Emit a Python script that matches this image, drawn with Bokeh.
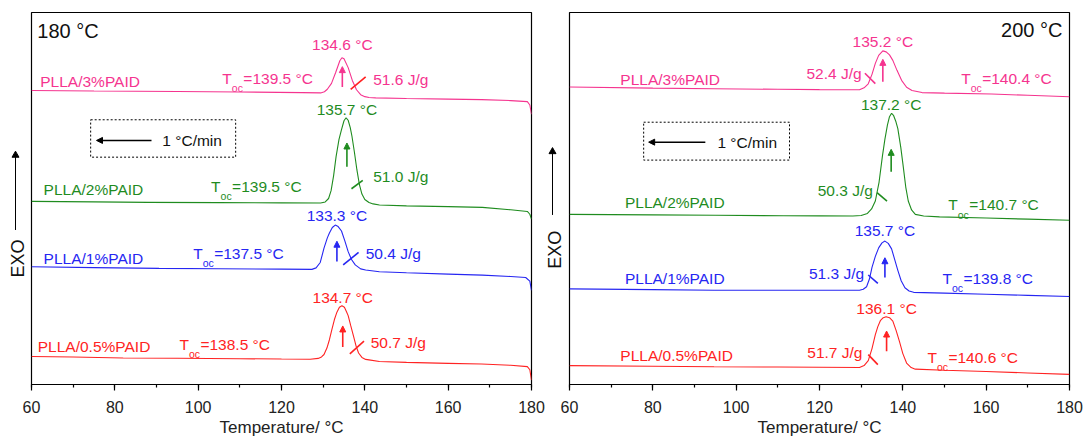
from math import pi
from bokeh.plotting import figure
from bokeh.layouts import row
from bokeh.models import Range1d, SingleIntervalTicker, Arrow, NormalHead
from bokeh.core.properties import value
from bokeh.embed import file_html
from bokeh.resources import INLINE

FONT = "Liberation Sans"

samples = ["PLLA/0.5%PAID", "PLLA/1%PAID", "PLLA/2%PAID", "PLLA/3%PAID"]
colors = ["#FF2323", "#2626F2", "#1F8C1F", "#F5348F"]

# ---------------- isothermal-melt 180 °C, cooling 1 °C/min (heat flow, a.u.) -------------
t180_05 = [60, 70, 82, 95, 110, 120, 126.9, 128.8, 129.6, 130.2, 130.9, 131.5, 132.1, 132.7, 133.3,
           133.9, 134.5, 135.1, 135.6, 136.0, 136.6, 137.3, 137.9, 138.5, 139.3, 140.2, 141.0, 143.5,
           150, 160, 168, 175, 179, 179.6, 180]
hf180_05 = [28.5, 28, 27, 26.6, 26.2, 25.9, 25.7, 26.5, 28, 30.5, 37, 45.5, 56, 66, 73.5,
            78.5, 80, 78.5, 74, 70, 60, 49, 39, 32, 27.5, 25.5, 25, 23.3,
            22.5, 21.5, 20.9, 19.5, 18.2, 15, 4.4]

t180_1 = [60, 75, 90.6, 105, 120, 127.3, 128.3, 129.3, 130.2, 131, 131.5, 132.2, 132.9, 133.6, 134.4,
          135.2, 136, 136.8, 137.7, 139, 140.2, 143.5, 150, 160, 168.2, 175, 178.6, 179.6, 180]
hf180_1 = [119.7, 118.8, 118, 117.6, 117.2, 117, 118.5, 124, 138.5, 149, 154, 159.5, 162, 160.5, 156,
           146, 135, 127, 121.5, 117.5, 116.3, 114.6, 113.5, 112.2, 111.1, 109.7, 108.7, 105, 95.6]

t180_2 = [60, 75, 88, 105, 120, 129.4, 130.5, 131.3, 131.9, 132.5, 133.1, 133.8, 134.4, 135, 135.5,
          136, 136.5, 136.9, 137.5, 138.1, 138.7, 139.3, 140, 141, 142, 143.5, 150, 160, 168.2, 175,
          179, 179.6, 180]
hf180_2 = [186.1, 185.6, 185.1, 184.8, 184.6, 184.4, 185.5, 189, 197, 212, 231.5, 249, 259, 268, 271,
           268.5, 261, 252.5, 236, 218, 203, 193.5, 188, 185, 183.5, 182.4, 181.5, 180.7, 180, 177.5,
           175.8, 173, 168]

t180_3 = [60, 75, 95, 110, 125, 129.4, 130.3, 131, 132, 133, 134, 134.5, 135, 136, 137, 138, 139, 140,
          141, 142.6, 150, 160, 168, 175, 179, 179.6, 180]
hf180_3 = [298.7, 298.2, 297.7, 297.2, 296.6, 296.3, 297.5, 300, 306, 317, 329, 332, 331, 322, 309,
           299.5, 294.5, 292.5, 291.6, 291.2, 290.6, 290, 289.5, 288.5, 287.4, 284, 274.6]

# ---------------- isothermal-melt 200 °C -------------
t200_05 = [60, 80, 94.7, 110, 120, 129.6, 130.7, 131.7, 132.6, 133.4, 134, 134.6, 135.3, 136, 136.8,
           137.6, 138.4, 139.2, 140, 140.9, 142, 143, 150, 160, 170, 180]
hf200_05 = [18.9, 18.3, 17.8, 17.5, 17.3, 17.1, 19, 24, 36, 50, 58, 64, 67, 68, 67,
            63.5, 54, 43, 31, 21.5, 17, 15.4, 14.3, 13, 11.6, 10.2]

t200_1 = [60, 80, 94.7, 110, 120, 129.6, 130.5, 131.3, 132, 132.6, 133.4, 134.2, 135, 135.7, 136.5,
          137.3, 138, 138.8, 139.6, 140.5, 141.5, 142.6, 150, 160, 170, 180]
hf200_1 = [95.9, 95.1, 94.5, 94.5, 94.5, 94.5, 95.5, 98, 106, 117.5, 128.5, 137, 142, 143.8, 141.5,
           136, 126, 114.5, 104, 97, 93.8, 92.4, 91.6, 90.5, 89.4, 88.3]

t200_2 = [60, 80, 95, 111.3, 120, 128, 130, 131.5, 132.5, 133.4, 134.3, 135.1, 135.7, 136.3, 136.8,
          137.3, 137.8, 138.3, 138.8, 139.5, 140.1, 140.7, 141.3, 142.1, 143, 145, 148.8, 160, 170, 180]
hf200_2 = [170.6, 170.1, 169.7, 169.2, 169.1, 169, 169.5, 171.5, 176, 184, 203, 229, 246, 260, 268.5,
           272, 269.5, 264, 256.5, 238, 218.5, 198, 184, 175, 170.6, 169, 168.1, 166.9, 165.8, 164.7]

t200_3 = [60, 80, 94.7, 110, 120, 129.6, 130.7, 131.7, 132.6, 133.4, 134.2, 135.2, 136, 136.8, 137.6,
          138.6, 139.7, 140.9, 142.2, 144.6, 150, 161.3, 170, 180]
hf200_3 = [298.3, 297.2, 296.5, 296, 295.7, 295.5, 297.5, 301.5, 311, 322, 330, 334.5, 333.5, 330.5, 325,
           315, 305, 298, 294.8, 292.7, 292.2, 291.3, 290, 288.5]

# peak temperature (°C), crystallization enthalpy (J/g), onset temperature (°C)
tp_180 = [134.7, 133.3, 135.7, 134.6]
dh_180 = [50.7, 50.4, 51.0, 51.6]
toc_180 = [138.5, 137.5, 139.5, 139.5]
tp_200 = [136.1, 135.7, 137.2, 135.2]
dh_200 = [51.7, 51.3, 50.3, 52.4]
toc_200 = [140.6, 139.8, 140.7, 140.4]

# ---------------- annotation layout (positions only) ----------------
lay_180 = dict(
    title="180 °C", title_x=61.4, title_y=359, title_align="left",
    name_x=[61.5, 62.9, 62.9, 62.1], name_y=[38.8, 128.3, 198, 308],
    toc_x=[95.5, 98.8, 103.1, 105.8], toc_y=[40.5, 133.5, 201.3, 310.8],
    dh_x=[141.4, 140.2, 142, 142], dh_y=[42.3, 132.8, 211, 310.1], dh_align="left",
    sl=[(136.4, 31.2, 139.8, 44), (134.8, 121.5, 138.5, 134.2), (136.8, 198.9, 139.5, 207.5),
        (136.6, 299.8, 140.2, 312.5)],
    sl_colors=[colors[0], colors[1], colors[2], "#FF2020"],
    arr=[(38.1, 59.5), (125, 145.6), (221.3, 245.4), (302.2, 323)],
    peak_y=[88.7, 171.4, 279.1, 345.2],
    box=(74.2, 109, 231, 269), rate_arrow=(88.8, 75.6, 248), rate_x=91.4,
)
lay_200 = dict(
    title="200 °C", title_x=178.3, title_y=355, title_align="right",
    name_x=[72.2, 73.3, 73.3, 72.2], name_y=[29.3, 106.3, 182, 305.9],
    toc_x=[145.9, 149.5, 150.9, 154], toc_y=[27.5, 106.3, 180.3, 306.9],
    dh_x=[130.3, 130.7, 132.8, 130.1], dh_y=[32, 111.5, 194.9, 312.1], dh_align="right",
    sl=[(131.7, 30, 134, 19.9), (131.7, 109.8, 134, 101.4), (133.8, 192.4, 136.2, 183.8),
        (130.9, 312.1, 133.4, 301.7)],
    sl_colors=colors,
    arr=[(33.4, 53.6), (107.3, 127.1), (213.2, 235.8), (303.5, 326)],
    peak_y=[76.1, 154.2, 280.9, 344.1],
    box=(77.8, 112.8, 225, 263), rate_arrow=(92.6, 79, 243), rate_x=95.5,
)

LBL = "15.5px"


def panel(ts, hfs, tp, dh, toc, lay, width, mbl, mbr, mbb, ymax):
    p = figure(width=width, height=439, x_range=Range1d(60, 180), y_range=Range1d(0, ymax),
               output_backend="svg", toolbar_location=None, y_axis_location=None,
               min_border_left=mbl, min_border_right=mbr, min_border_top=12, min_border_bottom=mbb)
    p.grid.visible = False
    p.outline_line_color = "black"
    p.outline_line_width = 1.2
    p.outline_line_alpha = 1.0
    ax = p.xaxis[0]
    ax.ticker = SingleIntervalTicker(interval=20, num_minor_ticks=2)
    ax.axis_label = "Temperature/ °C"
    ax.axis_label_text_font = FONT
    ax.axis_label_text_font_style = "normal"
    ax.axis_label_text_font_size = "17px"
    ax.axis_label_text_color = "#222222"
    ax.axis_label_standoff = 2
    ax.major_label_text_font = FONT
    ax.major_label_text_font_size = "16px"
    ax.major_label_text_color = "#222222"
    ax.major_label_standoff = 10
    ax.axis_line_color = "black"
    ax.axis_line_width = 1.2
    ax.major_tick_in = 0
    ax.major_tick_out = 6
    ax.minor_tick_in = 0
    ax.minor_tick_out = 3
    ax.major_tick_line_width = 1.2
    ax.minor_tick_line_width = 1.2
    ax.major_tick_line_color = "black"
    ax.minor_tick_line_color = "black"

    for i in range(4):
        p.line(ts[i], hfs[i], line_color=colors[i], line_width=1.1)

    common = dict(text_font=value(FONT), text_font_size=value(LBL), text_baseline="middle")
    p.text(x=lay["name_x"], y=lay["name_y"], text=samples, text_color=colors,
           text_align="left", **common)
    p.text(x=tp, y=lay["peak_y"], text=[f"{v:.1f} °C" for v in tp], text_color=colors,
           text_align="center", **common)
    p.text(x=lay["dh_x"], y=lay["dh_y"], text=[f"{v:.1f} J/g" for v in dh], text_color=colors,
           text_align=lay["dh_align"], **common)
    p.text(x=lay["toc_x"], y=lay["toc_y"], text=["T"] * 4, text_color=colors,
           text_align="left", **common)
    p.text(x=lay["toc_x"], y=[v - 10 for v in lay["toc_y"]], text=["oc"] * 4, text_color=colors,
           text_align="left", x_offset=9.5, text_font=value(FONT), text_font_size=value("10.5px"),
           text_baseline="middle")
    p.text(x=lay["toc_x"], y=lay["toc_y"], text=[f"={v:.1f} °C" for v in toc], text_color=colors,
           text_align="left", x_offset=21, **common)
    sl = lay["sl"]
    p.segment(x0=[s[0] for s in sl], y0=[s[1] for s in sl], x1=[s[2] for s in sl],
              y1=[s[3] for s in sl], line_color=lay["sl_colors"], line_width=1.6)
    for i in range(4):
        y0, y1 = lay["arr"][i]
        p.add_layout(Arrow(x_start=tp[i], y_start=y0, x_end=tp[i], y_end=y1,
                           line_color=colors[i], line_width=1.6,
                           end=NormalHead(size=6, fill_color=colors[i], line_color=colors[i],
                                          line_width=1)))
    p.text(x=[lay["title_x"]], y=[lay["title_y"]], text=[lay["title"]], text_color="#111111",
           text_align=lay["title_align"], text_baseline="middle",
           text_font=value(FONT), text_font_size=value("20px"))
    l, r, b, t = lay["box"]
    p.quad(left=[l], right=[r], bottom=[b], top=[t], fill_color=None, line_color="black",
           line_dash="2 2", line_width=1)
    xa, xb, ya = lay["rate_arrow"]
    p.add_layout(Arrow(x_start=xa, y_start=ya, x_end=xb, y_end=ya, line_color="black",
                       line_width=1.5, end=NormalHead(size=6, fill_color="black",
                                                      line_color="black", line_width=1)))
    p.text(x=[lay["rate_x"]], y=[ya], text=["1 °C/min"], text_color="#111111", text_align="left",
           **common)
    return p


def exo_strip(width, mbb, ymax, arrow_x, arrow_y0, arrow_y1, text_x, text_y, margin):
    # transparent overlay strip carrying the "EXO" direction marker
    s = figure(width=width, height=439, x_range=Range1d(0, width), y_range=Range1d(0, ymax),
               output_backend="svg", toolbar_location=None, x_axis_location=None,
               y_axis_location=None, min_border_left=0, min_border_right=0,
               min_border_top=12, min_border_bottom=mbb, outline_line_color=None,
               background_fill_color=None, border_fill_color=None, margin=margin)
    s.grid.visible = False
    s.segment(x0=[arrow_x], y0=[arrow_y0], x1=[arrow_x], y1=[arrow_y1 - 5], line_color="black",
              line_width=1)
    s.scatter(x=[arrow_x], y=[arrow_y1 - 4], marker="triangle", size=7, fill_color="black",
              line_color="black")
    s.text(x=[text_x], y=[text_y], text=["EXO"], angle=pi / 2, text_align="center",
           text_baseline="middle", text_color="#111111", text_font=value(FONT),
           text_font_size=value("18px"))
    return s


pL = panel([t180_05, t180_1, t180_2, t180_3], [hf180_05, hf180_1, hf180_2, hf180_3],
           tp_180, dh_180, toc_180, lay_180, width=545, mbl=31, mbr=14, mbb=49, ymax=378)
pR = panel([t200_05, t200_1, t200_2, t200_3], [hf200_05, hf200_1, hf200_2, hf200_3],
           tp_200, dh_200, toc_200, lay_200, width=539, mbl=24, mbr=15, mbb=54, ymax=373)
# overlays: left one at x 0..31, right one at x 535..569
exoL = exo_strip(31, 49, 378, 15, 157, 237, 17, 128, margin=(0, 504, 0, -1084))
exoR = exo_strip(34, 54, 373, 17, 170, 237.5, 19, 135, margin=(0, 515, 0, 0))

layout = row(pL, pR, exoL, exoR)
open("out.html", "w").write(file_html(layout, INLINE))
